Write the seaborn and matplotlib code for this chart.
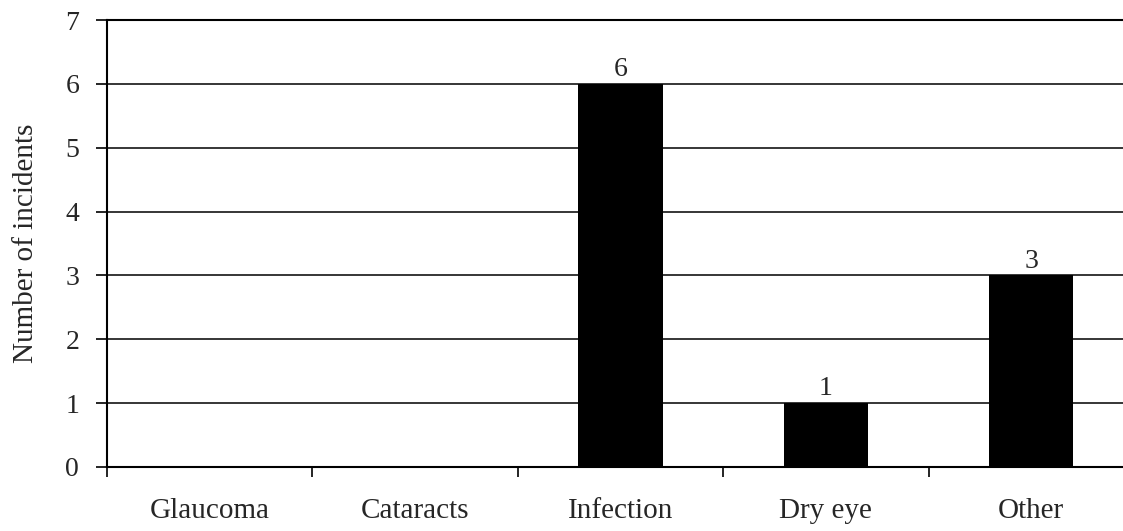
import matplotlib
matplotlib.use("Agg")
import matplotlib.pyplot as plt
import seaborn as sns
import pandas as pd
import numpy as np

categories = ["Glaucoma", "Cataracts", "Infection", "Dry eye", "Other"]
incidents = [0, 0, 6, 1, 3]
y_ticks = [0, 1, 2, 3, 4, 5, 6, 7]

sns.set_style("white")
plt.rcParams['font.family'] = ['Liberation Serif', 'DejaVu Serif']

df = pd.DataFrame({"Category": categories, "Incidents": incidents})

fig = plt.figure(figsize=(11.23, 5.31), dpi=100)
ax = fig.add_axes([107/1123, 64/531, 1027/1123, 447/531])

sns.barplot(data=df, x="Category", y="Incidents", color="black", width=0.41,
            saturation=1, edgecolor="black", linewidth=0, ax=ax, zorder=3)

ax.set_ylim(0, 7)
ax.set_xlim(-0.5, len(categories) - 0.5)
ax.set_yticks(y_ticks)
ax.grid(axis="y", color="black", linewidth=1.1, zorder=0)
ax.set_axisbelow(True)

for i, v in enumerate(incidents):
    if v > 0:
        ax.text(i, v + 0.03, str(v), ha="center", va="bottom", fontsize=20)

ax.spines["top"].set_visible(True)
ax.spines["top"].set_linewidth(1.5)
ax.spines["top"].set_color("black")
ax.spines["right"].set_visible(False)
ax.spines["left"].set_color("black")
ax.spines["left"].set_linewidth(1.5)
ax.spines["bottom"].set_color("black")
ax.spines["bottom"].set_linewidth(1.5)

ax.set_xticks(range(len(categories)))
ax.set_xticklabels(categories, fontsize=21)
ax.tick_params(axis="x", which="major", length=0, pad=22)
ax.set_xticks(np.arange(-0.5, len(categories), 1.0), minor=True)
ax.tick_params(axis="x", which="minor", length=7, width=1.2, direction="out", color="black")
ax.tick_params(axis="y", length=8, width=1.2, direction="out", color="black", labelsize=20, pad=12)
ax.yaxis.set_tick_params(left=True)
ax.xaxis.set_tick_params(which="minor", bottom=True)

ax.set_xlabel("")
ax.set_ylabel("Number of incidents", fontsize=21, labelpad=19)

fig.savefig("out.png", dpi=100)
